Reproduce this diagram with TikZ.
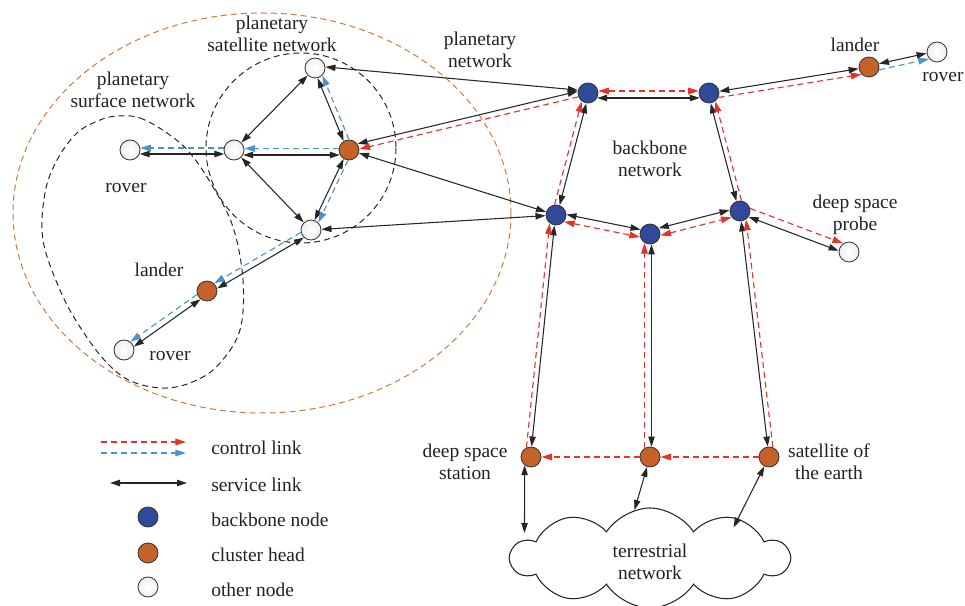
\documentclass[tikz,border=0pt]{standalone}
\usepackage{fontspec}
\setmainfont{Liberation Serif}
\usetikzlibrary{arrows.meta,calc,shapes.symbols}

\definecolor{bbblue}{HTML}{2F4A98}
\definecolor{chorange}{HTML}{C4622A}
\definecolor{ctlred}{HTML}{E2342C}
\definecolor{ctlblue}{HTML}{4B93CC}
\definecolor{netorange}{HTML}{D4783A}
\definecolor{txt}{HTML}{222222}

% \lnk{style}{from}{to}{offset in px}: a straight link between two round nodes,
% moved sideways by the offset (positive = to the left of the direction from -> to)
% and cut back to the node outlines.
\newcommand\lnk[4]{%
  \pgfmathsetmacro\lnkofs{0.75*(#4)}%
  \pgfmathsetmacro\lnkcut{0.75*sqrt(max(110.25-(#4)*(#4),4))}%
  \draw[#1,shorten <=\lnkcut pt,shorten >=\lnkcut pt]
    ($(#2.center)!\lnkofs pt!90:(#3.center)$) -- ($(#3.center)!\lnkofs pt!-90:(#2.center)$);}

\begin{document}
\begin{tikzpicture}[x=0.75pt,y=-0.75pt,
  font=\fontsize{14.6}{16.5}\selectfont,
  lbl/.style={text=txt, align=center, inner sep=0pt},
  netnode/.style={circle, draw=black!80, line width=0.6pt, minimum size=15pt, inner sep=0pt},
  bbnode/.style={netnode, fill=bbblue},
  chnode/.style={netnode, fill=chorange},
  otnode/.style={netnode, inner color=white, outer color=gray!12},
  svc/.style={draw=black!85, line width=0.8pt, >={Triangle[length=7.5pt,width=4.8pt]}, <->},
  ctl/.style={draw=ctlred, line width=0.85pt, dash pattern=on 4.5pt off 3pt,
              >={Triangle[length=8pt,width=5pt]}, ->},
  ctlb/.style={ctl, <->},
  plc/.style={ctl, draw=ctlblue},
  region/.style={line width=0.75pt, dash pattern=on 4.5pt off 3pt},
]
\useasboundingbox (0,0) rectangle (965,606);

% network regions
\draw[region, netorange] (262,213) ellipse [x radius=249, y radius=200];
\draw[region, black!85] (301,148) circle [radius=95];
\draw[region, black!85] plot[smooth cycle, tension=0.6] coordinates {
  (118,116) (140,118) (167,133) (190,153) (213,187) (233,227) (243,280)
  (240,330) (220,363) (197,380) (167,388) (133,382) (107,363) (80,327)
  (60,290) (43,240) (45,193) (57,160) (77,133) (100,120)};

% terrestrial cloud
\node[cloud, cloud puffs=10, cloud puff arc=115, aspect=2.9, draw=black!85,
      line width=0.8pt, fill=white, minimum width=208pt, minimum height=75pt]
  (cloud) at (650,558) {};

% planetary nodes
\node[otnode] (pst) at (315,68) {};
\node[otnode] (psl) at (234,150) {};
\node[chnode] (pso) at (349,150) {};
\node[otnode] (psb) at (311,230) {};
\node[otnode] (rvl) at (130,150) {};
\node[chnode] (lnd) at (207,291) {};
\node[otnode] (rvb) at (124,350) {};

% backbone nodes
\node[bbnode] (b1) at (588,93) {};
\node[bbnode] (b2) at (709,93) {};
\node[bbnode] (b3) at (556,215) {};
\node[bbnode] (b4) at (650,234) {};
\node[bbnode] (b5) at (740,211) {};

% remote and earth nodes
\node[chnode] (lndr) at (869,67) {};
\node[otnode] (rvr) at (937,52) {};
\node[otnode] (dsp) at (849,252) {};
\node[chnode] (dss) at (531,457) {};
\node[chnode] (mid) at (650,457) {};
\node[chnode] (sat) at (769,457) {};

% labels
\node[lbl] at (272,34) {planetary\\satellite network};
\node[lbl] at (133,90) {planetary\\surface network};
\node[lbl] at (126,188) {rover};
\node[lbl] at (159,270) {lander};
\node[lbl] at (170,356) {rover};
\node[lbl] at (480,50) {planetary\\network};
\node[lbl] at (855,45) {lander};
\node[lbl] at (943,77) {rover};
\node[lbl] at (650,159) {backbone\\network};
\node[lbl] at (855,215) {deep space\\probe};
\node[lbl] at (465,462) {deep space\\station};
\node[lbl] at (829,462) {satellite of\\the earth};
\node[lbl] at (650,562) {terrestrial\\network};

% links inside the planetary satellite network
\lnk{svc}{pst}{psl}{0}
\lnk{svc}{psl}{psb}{0}
\lnk{svc}{pso}{pst}{1.5}  \lnk{plc}{pso}{pst}{-4}
\lnk{svc}{pso}{psl}{5}    \lnk{plc}{pso}{psl}{-1.5}
\lnk{svc}{psl}{rvl}{4}    \lnk{plc}{psl}{rvl}{-2}
\lnk{svc}{pso}{psb}{-1}   \lnk{plc}{pso}{psb}{3.5}
\lnk{svc}{psb}{lnd}{3}    \lnk{plc}{psb}{lnd}{-3}
\lnk{svc}{lnd}{rvb}{3}    \lnk{plc}{lnd}{rvb}{-3}

% links to the backbone
\lnk{svc}{pst}{b1}{2}
\lnk{svc}{pso}{b3}{0}
\lnk{svc}{psb}{b3}{0}
\lnk{svc}{b1}{pso}{-4}    \lnk{ctl}{b1}{pso}{1.5}

% backbone links
\lnk{svc}{b1}{b2}{-5}     \lnk{ctlb}{b1}{b2}{2}
\lnk{svc}{b3}{b1}{-1}     \lnk{ctl}{b3}{b1}{4}
\lnk{svc}{b3}{b4}{2.5}    \lnk{ctlb}{b3}{b4}{-5}
\lnk{svc}{b4}{b5}{3.5}    \lnk{ctlb}{b4}{b5}{-4}
\lnk{svc}{b5}{b2}{1}      \lnk{ctl}{b5}{b2}{-4}
\lnk{svc}{b2}{lndr}{0}    \lnk{ctl}{b2}{lndr}{-6}
\lnk{svc}{lndr}{rvr}{1}   \lnk{plc}{lndr}{rvr}{-5}
\lnk{svc}{b5}{dsp}{-2.5}  \lnk{ctl}{b5}{dsp}{6}

% earth segment
\lnk{svc}{dss}{b3}{0.5}   \lnk{ctl}{dss}{b3}{5.5}
\lnk{svc}{mid}{b4}{-1.5}  \lnk{ctl}{mid}{b4}{5.5}
\lnk{svc}{sat}{b5}{0}     \lnk{ctl}{sat}{b5}{-5}
\lnk{ctl}{sat}{mid}{0}
\lnk{ctl}{mid}{dss}{0}

% links down to the terrestrial network
\coordinate (cl1) at (524.5,533);
\coordinate (cl2) at (634.5,510);
\coordinate (cl3) at (733.5,527.5);
\draw[svc] (dss.-128) -- (cl1);
\draw[svc] (mid) -- (cl2);
\draw[svc] (sat) -- (cl3);

% legend
\coordinate (lga1) at (101,442); \coordinate (lga2) at (186,442);
\coordinate (lgb1) at (101,453); \coordinate (lgb2) at (186,453);
\coordinate (lgc1) at (110,483); \coordinate (lgc2) at (187,483);
\draw[ctl] (lga1) -- (lga2);
\draw[plc] (lgb1) -- (lgb2);
\draw[svc] (lgc1) -- (lgc2);
\node[bbnode] (lgbb) at (148,517) {};
\node[chnode] (lgch) at (148,553) {};
\node[otnode] (lgot) at (148,587) {};
\node[lbl, anchor=west] at (211,448) {control link};
\node[lbl, anchor=west] at (211,485) {service link};
\node[lbl, anchor=west] at (211,520) {backbone node};
\node[lbl, anchor=west] at (211,555) {cluster head};
\node[lbl, anchor=west] at (211,590) {other node};
\end{tikzpicture}
\end{document}
